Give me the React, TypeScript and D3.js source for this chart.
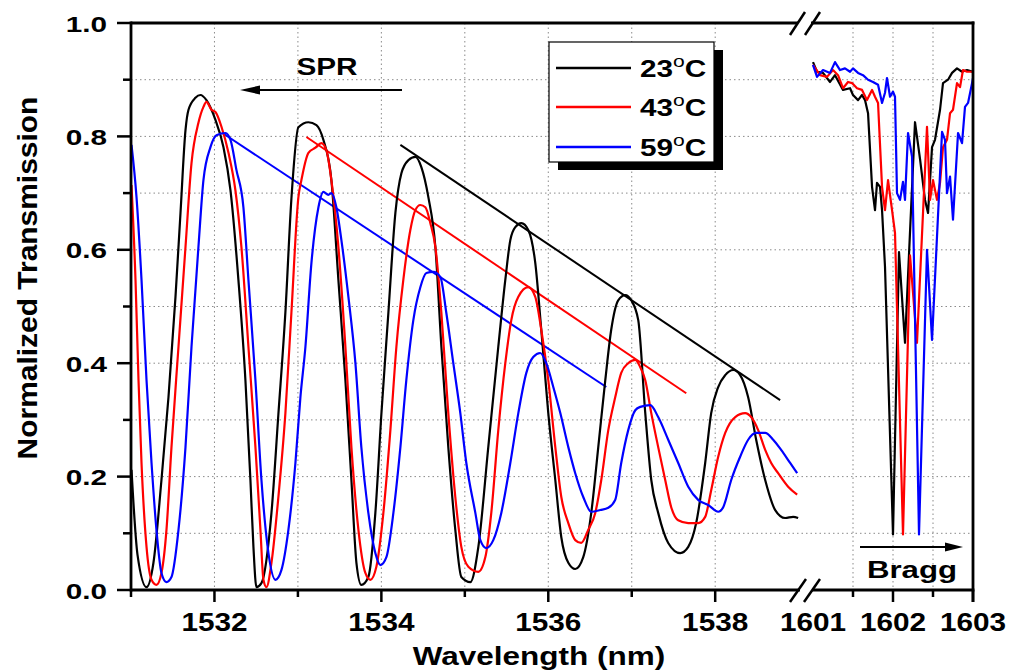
import React from 'react';
import * as d3 from 'd3';

type P = [number, number];

// ---------- data ----------
const spr23: P[] = [
  [1531.006,0.212],[1531.078,0.062],[1531.186,0.005],[1531.269,0.048],[1531.365,0.194],[1531.449,0.340],
  [1531.533,0.517],[1531.593,0.665],[1531.653,0.811],[1531.689,0.847],[1531.772,0.868],[1531.832,0.873],
  [1531.904,0.864],[1532.012,0.829],[1532.108,0.781],[1532.192,0.705],[1532.287,0.547],[1532.371,0.370],
  [1532.431,0.194],[1532.467,0.076],[1532.503,0.005],[1532.563,0.012],[1532.683,0.136],[1532.766,0.310],
  [1532.850,0.490],[1532.922,0.690],[1533.006,0.816],[1533.126,0.825],[1533.222,0.820],[1533.305,0.794],
  [1533.401,0.723],[1533.485,0.547],[1533.569,0.370],[1533.641,0.194],[1533.701,0.048],[1533.760,0.009],
  [1533.844,0.023],[1533.928,0.136],[1534.000,0.310],[1534.084,0.489],[1534.168,0.665],[1534.240,0.735],
  [1534.323,0.758],[1534.407,0.764],[1534.479,0.746],[1534.563,0.693],[1534.647,0.605],[1534.719,0.429],
  [1534.802,0.252],[1534.886,0.106],[1534.958,0.023],[1535.066,0.014],[1535.162,0.076],[1535.281,0.252],
  [1535.401,0.429],[1535.485,0.547],[1535.545,0.617],[1535.605,0.640],[1535.677,0.647],[1535.760,0.635],
  [1535.844,0.577],[1535.916,0.459],[1536.000,0.312],[1536.084,0.194],[1536.156,0.093],[1536.240,0.048],
  [1536.323,0.037],[1536.419,0.058],[1536.515,0.136],[1536.599,0.252],[1536.683,0.370],[1536.754,0.459],
  [1536.838,0.511],[1536.922,0.520],[1536.994,0.511],[1537.078,0.476],[1537.162,0.312],[1537.234,0.194],
  [1537.317,0.136],[1537.437,0.083],[1537.581,0.065],[1537.677,0.076],[1537.772,0.118],[1537.880,0.224],
  [1537.952,0.312],[1538.036,0.358],[1538.120,0.379],[1538.216,0.388],[1538.299,0.379],[1538.395,0.340],
  [1538.491,0.265],[1538.599,0.194],[1538.719,0.141],[1538.838,0.127],[1538.934,0.129],[1538.994,0.127],
];

const spr43: P[] = [
  [1531.006,0.714],[1531.054,0.547],[1531.090,0.370],[1531.126,0.224],[1531.186,0.076],[1531.246,0.018],
  [1531.305,0.009],[1531.365,0.030],[1531.425,0.106],[1531.485,0.252],[1531.569,0.429],[1531.653,0.605],
  [1531.725,0.753],[1531.808,0.824],[1531.868,0.852],[1531.904,0.861],[1531.964,0.847],[1532.012,0.843],
  [1532.084,0.817],[1532.168,0.771],[1532.251,0.705],[1532.323,0.605],[1532.407,0.429],[1532.491,0.252],
  [1532.551,0.106],[1532.587,0.018],[1532.623,0.005],[1532.683,0.048],[1532.766,0.164],[1532.850,0.312],
  [1532.922,0.489],[1533.006,0.693],[1533.042,0.723],[1533.126,0.771],[1533.210,0.780],[1533.281,0.788],
  [1533.341,0.776],[1533.401,0.723],[1533.485,0.605],[1533.569,0.429],[1533.641,0.252],[1533.725,0.106],
  [1533.808,0.030],[1533.868,0.018],[1533.940,0.041],[1534.024,0.136],[1534.108,0.282],[1534.180,0.429],
  [1534.263,0.547],[1534.347,0.635],[1534.407,0.670],[1534.467,0.679],[1534.527,0.675],[1534.587,0.647],
  [1534.647,0.605],[1534.719,0.489],[1534.802,0.312],[1534.886,0.164],[1534.958,0.076],[1535.042,0.041],
  [1535.162,0.032],[1535.246,0.058],[1535.317,0.136],[1535.401,0.282],[1535.485,0.400],[1535.557,0.476],
  [1535.641,0.517],[1535.760,0.534],[1535.844,0.517],[1535.916,0.459],[1536.000,0.370],[1536.084,0.252],
  [1536.156,0.164],[1536.240,0.118],[1536.323,0.088],[1536.395,0.083],[1536.479,0.106],[1536.563,0.136],
  [1536.635,0.194],[1536.719,0.282],[1536.802,0.340],[1536.874,0.383],[1536.958,0.400],[1537.042,0.406],
  [1537.102,0.393],[1537.162,0.370],[1537.234,0.312],[1537.317,0.252],[1537.401,0.194],[1537.473,0.146],
  [1537.557,0.123],[1537.677,0.118],[1537.796,0.118],[1537.880,0.129],[1537.952,0.176],[1538.036,0.235],
  [1538.120,0.277],[1538.240,0.305],[1538.359,0.312],[1538.431,0.305],[1538.515,0.282],[1538.599,0.247],
  [1538.671,0.224],[1538.754,0.206],[1538.874,0.182],[1538.982,0.168],
];

const spr59: P[] = [
  [1531.006,0.785],[1531.066,0.693],[1531.126,0.547],[1531.186,0.370],[1531.246,0.224],[1531.305,0.106],
  [1531.365,0.030],[1531.425,0.014],[1531.485,0.023],[1531.569,0.106],[1531.653,0.252],[1531.725,0.429],
  [1531.808,0.605],[1531.868,0.723],[1531.952,0.781],[1532.024,0.802],[1532.132,0.806],[1532.192,0.794],
  [1532.263,0.741],[1532.347,0.675],[1532.407,0.547],[1532.491,0.370],[1532.563,0.194],[1532.647,0.065],
  [1532.731,0.018],[1532.802,0.035],[1532.886,0.106],[1532.970,0.224],[1533.030,0.340],[1533.090,0.429],
  [1533.162,0.577],[1533.246,0.675],[1533.305,0.702],[1533.365,0.697],[1533.401,0.700],[1533.461,0.675],
  [1533.521,0.617],[1533.605,0.517],[1533.689,0.400],[1533.760,0.252],[1533.844,0.136],[1533.928,0.065],
  [1533.988,0.044],[1534.060,0.058],[1534.144,0.136],[1534.228,0.252],[1534.299,0.370],[1534.383,0.476],
  [1534.467,0.534],[1534.539,0.559],[1534.623,0.561],[1534.707,0.552],[1534.778,0.489],[1534.862,0.400],
  [1534.946,0.312],[1535.018,0.224],[1535.126,0.136],[1535.186,0.088],[1535.257,0.074],[1535.341,0.088],
  [1535.437,0.136],[1535.545,0.224],[1535.641,0.312],[1535.737,0.383],[1535.820,0.411],[1535.904,0.418],
  [1535.976,0.400],[1536.060,0.358],[1536.144,0.312],[1536.240,0.252],[1536.323,0.206],[1536.419,0.164],
  [1536.515,0.138],[1536.623,0.141],[1536.719,0.145],[1536.802,0.159],[1536.874,0.224],[1536.958,0.282],
  [1537.042,0.317],[1537.102,0.323],[1537.222,0.326],[1537.317,0.305],[1537.437,0.265],[1537.557,0.224],
  [1537.677,0.182],[1537.796,0.159],[1537.916,0.150],[1538.036,0.138],[1538.096,0.146],[1538.192,0.194],
  [1538.299,0.235],[1538.395,0.265],[1538.491,0.277],[1538.599,0.277],[1538.695,0.265],[1538.790,0.247],
  [1538.898,0.224],[1538.982,0.206],
];

const bragg23: P[] = [
  [1601.000,0.931],[1601.050,0.914],[1601.125,0.912],[1601.213,0.896],[1601.275,0.908],[1601.375,0.882],
  [1601.463,0.885],[1601.500,0.873],[1601.563,0.864],[1601.613,0.873],[1601.650,0.864],[1601.688,0.841],
  [1601.738,0.711],[1601.775,0.670],[1601.800,0.718],[1601.838,0.711],[1601.863,0.670],[1601.900,0.570],
  [1602.000,0.098],[1602.075,0.596],[1602.150,0.436],[1602.275,0.825],[1602.338,0.760],[1602.400,0.688],
  [1602.438,0.665],[1602.488,0.781],[1602.525,0.794],[1602.588,0.847],[1602.625,0.894],[1602.688,0.900],
  [1602.738,0.912],[1602.800,0.920],[1602.863,0.914],[1602.925,0.917],[1603.000,0.914],
];

const bragg43: P[] = [
  [1601.000,0.926],[1601.088,0.908],[1601.175,0.905],[1601.250,0.917],[1601.313,0.908],[1601.375,0.885],
  [1601.438,0.896],[1601.488,0.894],[1601.550,0.885],[1601.613,0.882],[1601.675,0.864],[1601.738,0.882],
  [1601.775,0.870],[1601.813,0.859],[1601.863,0.711],[1601.900,0.670],[1601.938,0.723],[1601.988,0.670],
  [1602.025,0.630],[1602.125,0.098],[1602.213,0.590],[1602.300,0.436],[1602.425,0.817],[1602.463,0.688],
  [1602.500,0.723],[1602.550,0.688],[1602.588,0.718],[1602.625,0.781],[1602.675,0.794],[1602.713,0.841],
  [1602.750,0.847],[1602.800,0.894],[1602.838,0.887],[1602.875,0.917],[1602.925,0.914],[1603.000,0.914],
];

const bragg59: P[] = [
  [1601.000,0.926],[1601.050,0.905],[1601.125,0.917],[1601.213,0.912],[1601.275,0.931],[1601.338,0.917],
  [1601.400,0.920],[1601.463,0.914],[1601.500,0.920],[1601.563,0.912],[1601.625,0.908],[1601.688,0.900],
  [1601.750,0.896],[1601.813,0.891],[1601.863,0.859],[1601.900,0.877],[1601.925,0.903],[1601.963,0.870],
  [1602.000,0.879],[1602.025,0.870],[1602.050,0.700],[1602.088,0.688],[1602.125,0.720],[1602.150,0.688],
  [1602.188,0.806],[1602.238,0.764],[1602.325,0.098],[1602.425,0.600],[1602.488,0.441],[1602.613,0.808],
  [1602.650,0.794],[1602.675,0.700],[1602.713,0.729],[1602.750,0.653],[1602.813,0.806],[1602.863,0.788],
  [1602.900,0.852],[1602.938,0.859],[1602.988,0.894],[1603.000,0.903],
];

const trend23: P[] = [[1534.228, 0.785], [1538.778, 0.335]];
const trend43: P[] = [[1533.102, 0.799], [1537.653, 0.347]];
const trend59: P[] = [[1532.096, 0.806], [1536.695, 0.358]];

const leftMajor = [1532, 1534, 1536, 1538];
const leftMinor = [1531, 1533, 1535, 1537];
const leftGrid = [1532, 1533, 1534, 1535, 1536, 1537, 1538];
const rightLabels = [1601, 1602, 1603];
const rightMajor = [1602, 1603];
const rightMinor = [1601.5, 1602.5];
const rightGrid = [1601.5, 1602, 1602.5];
const yMajor = [0, 0.2, 0.4, 0.6, 0.8, 1.0];
const yMinor = [0.1, 0.3, 0.5, 0.7, 0.9];
const yGrid = [0.1, 0.2, 0.3, 0.4, 0.5, 0.6, 0.7, 0.8, 0.9];
const temps = ['23', '43', '59'];
const colors = ['#000000', '#ff0000', '#0000ff'];

// ---------- layout ----------
const W = 1014, H = 672;
const L = 131, R = 973, T = 23, B = 590;
const FONT = "'Liberation Sans', Arial, Helvetica, sans-serif";

const xL = d3.scaleLinear().domain([1531, 1539.1]).range([L, 807]);
const xR = d3.scaleLinear().domain([1601, 1603]).range([813, R]);
const y = d3.scaleLinear().domain([0, 1]).range([B, T]);

const lineL = d3.line<P>().x(d => xL(d[0])).y(d => y(d[1])).curve(d3.curveMonotoneX);
const lineLstraight = d3.line<P>().x(d => xL(d[0])).y(d => y(d[1]));
const lineR = d3.line<P>().x(d => xR(d[0])).y(d => y(d[1])).curve(d3.curveLinear);

function SText(props: { x: number; y: number; sx: number; size: number; anchor?: string; children: any; rotate?: number }) {
  const { x, y: yy, sx, size, anchor = 'middle', children, rotate = 0 } = props;
  return (
    <text
      transform={`translate(${x},${yy}) rotate(${rotate}) scale(${sx},1)`}
      fontSize={size}
      fontWeight="bold"
      fontFamily={FONT}
      textAnchor={anchor}
      fill="#000"
    >
      {children}
    </text>
  );
}

export default function App() {
  const sprSeries = [spr23, spr43, spr59];
  const braggSeries = [bragg23, bragg43, bragg59];
  const trends = [trend23, trend43, trend59];
  const gridStyle = { stroke: '#8a8a8a', strokeWidth: 1, strokeDasharray: '1.5 3' };
  const legY = [68, 107, 147];
  return (
    <svg width={W} height={H} viewBox={`0 0 ${W} ${H}`}
      style={{ position: 'absolute', left: 0, top: 0, display: 'block', background: '#fff' }}>
      <rect x={0} y={0} width={W} height={H} fill="#fff" />
      {/* grid */}
      {yGrid.map(v => <line key={'yg' + v} x1={L} x2={R} y1={y(v)} y2={y(v)} {...gridStyle} />)}
      {leftGrid.map(v => <line key={'lg' + v} x1={xL(v)} x2={xL(v)} y1={T} y2={B} {...gridStyle} />)}
      {rightGrid.map(v => <line key={'rg' + v} x1={xR(v)} x2={xR(v)} y1={T} y2={B} {...gridStyle} />)}

      {/* trend lines */}
      {trends.map((t, i) => <path key={'tr' + i} d={lineLstraight(t) || ''} fill="none" stroke={colors[i]} strokeWidth={2} />)}

      {/* curves */}
      {sprSeries.map((s, i) => <path key={'s' + i} d={lineL(s) || ''} fill="none" stroke={colors[i]} strokeWidth={2.2} strokeLinejoin="round" />)}
      {braggSeries.map((s, i) => <path key={'b' + i} d={lineR(s) || ''} fill="none" stroke={colors[i]} strokeWidth={2.2} strokeLinejoin="round" />)}

      {/* frame */}
      <g stroke="#000" strokeWidth={2.8} fill="none">
        <line x1={L} x2={L} y1={T - 1.4} y2={B + 1.4} />
        <line x1={R} x2={R} y1={T - 1.4} y2={B + 12} />
        <line x1={L} x2={800} y1={B} y2={B} />
        <line x1={812} x2={R + 1.4} y1={B} y2={B} />
        <line x1={L} x2={798} y1={T} y2={T} />
        <line x1={811} x2={R + 1.4} y1={T} y2={T} />
      </g>
      {/* break marks */}
      <g stroke="#000" strokeWidth={2.5}>
        <line x1={790} y1={602} x2={806} y2={579} />
        <line x1={804} y1={602} x2={820} y2={579} />
        <line x1={790} y1={35} x2={805} y2={12} />
        <line x1={805} y1={35} x2={820} y2={12} />
      </g>

      {/* ticks */}
      <g stroke="#000" strokeWidth={2.5}>
        {yMajor.map(v => <line key={'ym' + v} x1={L - 14} x2={L} y1={y(v)} y2={y(v)} />)}
        {yMinor.map(v => <line key={'yn' + v} x1={L - 8} x2={L} y1={y(v)} y2={y(v)} />)}
        {leftMajor.map(v => <line key={'xm' + v} x1={xL(v)} x2={xL(v)} y1={B} y2={B + 12} />)}
        {leftMinor.map(v => <line key={'xn' + v} x1={xL(v)} x2={xL(v)} y1={B} y2={B + 7} />)}
        {rightMajor.map(v => <line key={'rm' + v} x1={xR(v)} x2={xR(v)} y1={B} y2={B + 12} />)}
        {rightMinor.map(v => <line key={'rn' + v} x1={xR(v)} x2={xR(v)} y1={B} y2={B + 7} />)}
      </g>

      {/* tick labels */}
      {yMajor.map(v => (
        <SText key={'yl' + v} x={107} y={y(v) + 8.5} sx={1.35} size={22} anchor="end">{v.toFixed(1)}</SText>
      ))}
      {leftMajor.map(v => (
        <SText key={'xl' + v} x={xL(v)} y={631} sx={1.19} size={25}>{String(v)}</SText>
      ))}
      {rightLabels.map(v => (
        <SText key={'rl' + v} x={xR(v)} y={631} sx={1.19} size={25}>{String(v)}</SText>
      ))}

      {/* axis titles */}
      <SText x={539} y={665} sx={1.26} size={25}>Wavelength (nm)</SText>
      <SText x={37} y={278} sx={1.07} size={28} rotate={-90}>Normalized Transmission</SText>

      {/* SPR annotation */}
      <SText x={327} y={75} sx={1.24} size={24}>SPR</SText>
      <line x1={402} x2={256} y1={90} y2={90} stroke="#000" strokeWidth={2} />
      <polygon points="240,90 260,85.5 260,94.5" fill="#000" />

      {/* Bragg annotation */}
      <SText x={912} y={578} sx={1.3} size={24}>Bragg</SText>
      <line x1={860} x2={948} y1={547} y2={547} stroke="#000" strokeWidth={2} />
      <polygon points="963,547 945,542.5 945,551.5" fill="#000" />

      {/* legend */}
      <rect x={558} y={50} width={165} height={120} fill="#000" />
      <rect x={549} y={42} width={165} height={120} fill="#fff" stroke="#000" strokeWidth={1.2} />
      {temps.map((t, i) => (
        <g key={'lg' + t}>
          <line x1={556} x2={631} y1={legY[i]} y2={legY[i]} stroke={colors[i]} strokeWidth={2.5} />
          <text transform={`translate(640,${legY[i] + 8.5}) scale(1.24,1)`} fontFamily={FONT} fontWeight="bold" fontSize={24} fill="#000">
            {t}
            <tspan fontSize={17} fontWeight="normal" dy={-10}>o</tspan>
            <tspan fontSize={24} dy={10}>C</tspan>
          </text>
        </g>
      ))}
    </svg>
  );
}
